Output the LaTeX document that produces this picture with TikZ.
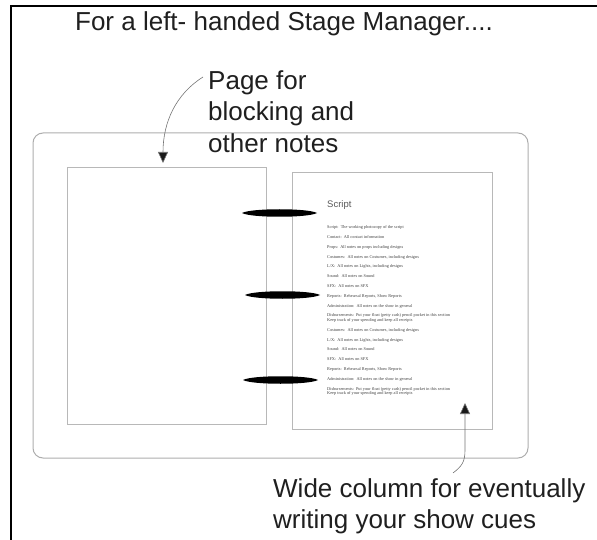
\documentclass[tikz,border=0pt]{standalone}
\usepackage{fontspec}
\setmainfont{Liberation Sans}
\newfontfamily\scriptserif{Liberation Serif}
\usetikzlibrary{arrows.meta}

\newcommand{\itemgap}{\\[5.2pt]}

\begin{document}
\begin{tikzpicture}[x=1pt,y=-1pt,
  callout/.style={font=\fontsize{26}{31.5}\selectfont, text=black!88, inner sep=0pt, align=left},
  sheet/.style={draw=black!28, line width=1.1pt},
  folder/.style={draw=black!32, line width=1pt, rounded corners=10pt},
  leader/.style={draw=black!55, line width=0.6pt, -{Triangle[width=10pt,length=11pt,fill=black!90]}},
  ring/.style={fill=black},
  heading/.style={font=\fontsize{9.5}{11}\selectfont, text=black!65, inner sep=0pt},
  scriptlines/.style={font=\scriptserif\fontsize{4.3}{4.6}\selectfont, text=black!75, inner sep=0pt, align=left}]

\useasboundingbox (0,0) rectangle (597,540);

% frame edges
\draw[line width=2pt, line join=miter] (11,540) -- (11,6) -- (597,6);

% title
\node[callout, anchor=base] (title) at (284,31) {For a left- handed Stage Manager....};

% open folder and its two pages
\draw[folder] (33,133) rectangle (528,458);
\node[sheet, minimum width=199pt, minimum height=257pt, anchor=north west, inner sep=0pt] (leftpage) at (67,167) {};
\node[sheet, minimum width=200pt, minimum height=257pt, anchor=north west, inner sep=0pt] (rightpage) at (292,172) {};

% binder rings
\foreach \ry/\rx in {213/242, 295/245, 380/243}{
  \path[ring] (\rx,\ry) .. controls (\rx+9,\ry-5) and (\rx+66,\ry-5) .. (\rx+75,\ry)
              .. controls (\rx+66,\ry+5) and (\rx+9,\ry+5) .. (\rx,\ry) -- cycle;
}

% contents of the script page
\node[heading, anchor=west] (scripthead) at (327,205) {Script};
\node[scriptlines, anchor=north west] (scriptbody) at (327,225.5) {%
Script:\enspace The working photocopy of the script\itemgap
Contact:\enspace All contact information\itemgap
Props:\enspace All notes on props including designs\itemgap
Costumes:\enspace All notes on Costumes, including designs\itemgap
L/X:\enspace All notes on Lights, including designs\itemgap
Sound:\enspace All notes on Sound\itemgap
SFX:\enspace All notes on SFX\itemgap
Reports:\enspace Rehearsal Reports, Show Reports\itemgap
Administration:\enspace All notes on the show in general\itemgap
Disbursements:\enspace Put your float (petty cash) pencil pocket in this section\\
Keep track of your spending and keep all receipts\itemgap
Costumes:\enspace All notes on Costumes, including designs\itemgap
L/X:\enspace All notes on Lights, including designs\itemgap
Sound:\enspace All notes on Sound\itemgap
SFX:\enspace All notes on SFX\itemgap
Reports:\enspace Rehearsal Reports, Show Reports\itemgap
Administration:\enspace All notes on the show in general\itemgap
Disbursements:\enspace Put your float (petty cash) pencil pocket in this section\\
Keep track of your spending and keep all receipts};

% callouts
\node[callout, anchor=north west] (blocklabel) at (208,70) {Page for\\blocking and\\other notes};
\node[callout, anchor=north west] (cuelabel) at (273,478) {Wide column for eventually\\writing your show cues};

% leader lines
\coordinate (blockstart) at (203,77);
\coordinate (cuetip) at (465,403);
\coordinate (cuestart) at (453,473);
\draw[leader] (blockstart) .. controls (176,94) and (163,122) .. (163,163);
\draw[leader] (cuestart) .. controls (462,466) and (465,462) .. (465,450) -- (cuetip);
\end{tikzpicture}
\end{document}
